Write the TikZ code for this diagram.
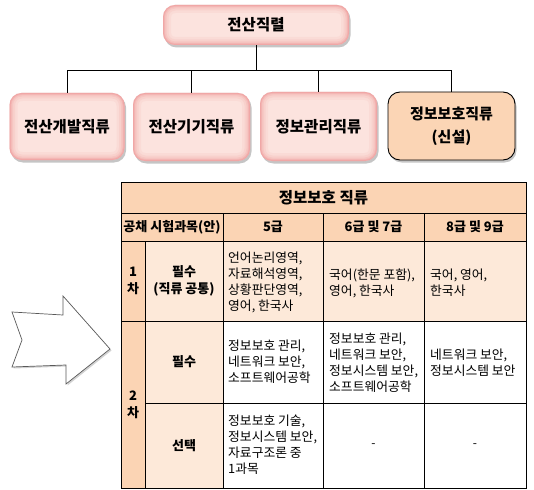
\documentclass[tikz,border=0pt]{standalone}
\usepackage{fontspec}
\setmainfont{Noto Sans CJK KR}
\usetikzlibrary{shadows}
\definecolor{peach}{HTML}{FBD4B4}
\definecolor{lpeach}{HTML}{FDE9D9}
\definecolor{pinkfill}{HTML}{FCE3DE}
\definecolor{pinkedge}{HTML}{EE9696}
\definecolor{newbox}{HTML}{FBD5B5}
\begin{document}
\begin{tikzpicture}[x=1pt,y=-1pt,
  boxshadow/.style={drop shadow={opacity=0.45,shadow xshift=1.5pt,shadow yshift=-2.5pt}},
  pinkbox/.style={rounded corners=12pt, fill=pinkfill, align=center, inner sep=0pt,
    font=\fontsize{15.5}{22}\selectfont\bfseries, boxshadow,
    path picture={\foreach \w/\o in {16/0.10,11/0.14,7/0.2,4/0.3,2/0.45}{\draw[pinkedge,opacity=\o,line width=\w pt,rounded corners=12pt] (path picture bounding box.south west) rectangle (path picture bounding box.north east);}}},
  newstyle/.style={rounded corners=12pt, fill=newbox, draw=black, line width=0.9pt, align=center, inner sep=0pt,
    font=\fontsize{15}{23}\selectfont\bfseries, boxshadow},
  conn/.style={draw=black, line width=0.9pt},
  grid/.style={draw=black, line width=0.9pt},
  cell/.style={font=\fontsize{12.8}{16}\selectfont, align=left, anchor=west, inner sep=0pt},
  hcell/.style={font=\fontsize{13}{17}\selectfont\bfseries, align=center, inner sep=0pt},
  arrowshape/.style={fill=white, draw=gray!70!black, line width=0.7pt, drop shadow={opacity=0.35,shadow xshift=1.5pt,shadow yshift=-1.5pt}}
]
\useasboundingbox[fill=white] (0,0) rectangle (534,489);

% org chart
\node[pinkbox, minimum width=186pt, minimum height=40pt] (top) at (256,25) {전산직렬};
\node[pinkbox, minimum width=115pt, minimum height=67pt] (b1) at (67,126.5) {전산개발직류};
\node[pinkbox, minimum width=117pt, minimum height=68pt] (b2) at (191.5,127) {전산기기직류};
\node[pinkbox, minimum width=117pt, minimum height=69pt] (b3) at (318.5,126.5) {정보관리직류};
\node[newstyle, minimum width=127pt, minimum height=68pt] (b4) at (451.5,126) {정보보호직류\\(신설)};
\coordinate (bus) at (256,70);
\draw[conn] (top.south) -- (bus);
\draw[conn] (b1.north) |- (bus);
\draw[conn] (b2.north) |- (bus);
\draw[conn] (b3.north) |- (bus);
\draw[conn] (b4.north) |- (bus);

% arrow
\draw[arrowshape] (12,312) -- (63,315) -- (63,296) -- (110,349) -- (66,384) -- (66,365) -- (12,367) -- (22,340) -- cycle;

% table fills
\fill[peach] (121,182) rectangle (526,241);
\fill[peach] (121,241) rectangle (145,488);
\fill[lpeach] (145,241) rectangle (223,488);
\fill[lpeach] (223,241) rectangle (526,321);
% table lines
\draw[grid] (121,182) rectangle (526,488);
\draw[grid] (121,213) -- (526,213);
\draw[grid] (121,241) -- (526,241);
\draw[grid] (121,321) -- (526,321);
\draw[grid] (145,403) -- (526,403);
\draw[grid] (145,241) -- (145,488);
\draw[grid] (223,213) -- (223,488);
\draw[grid] (323,213) -- (323,488);
\draw[grid] (424,213) -- (424,488);

% table text
\node[font=\fontsize{15.5}{18}\selectfont\bfseries, inner sep=0pt] (title) at (323.5,197.5) {정보보호 직류};
\node[hcell] (h1) at (172,227) {공채 시험과목(안)};
\node[hcell] (h2) at (273,227) {5급};
\node[hcell] (h3) at (373.5,227) {6급 및 7급};
\node[hcell] (h4) at (475,227) {8급 및 9급};

\node[hcell] (r1a) at (133,281) {1\\차};
\node[hcell] (r1b) at (184,281) {필수\\(직류 공통)};
\node[cell] (r1c) at (228,282) {언어논리영역,\\자료해석영역,\\상황판단영역,\\영어, 한국사};
\node[cell] (r1d) at (329,283) {국어(한문 포함),\\영어, 한국사};
\node[cell] (r1e) at (430,283) {국어, 영어,\\한국사};

\node[hcell] (r2a) at (133,405) {2\\차};
\node[hcell] (r2b) at (184,362) {필수};
\node[cell] (r2c) at (228,362) {정보보호 관리,\\네트워크 보안,\\소프트웨어공학};
\node[cell] (r2d) at (329,363) {정보보호 관리,\\네트워크 보안,\\정보시스템 보안,\\소프트웨어공학};
\node[cell] (r2e) at (430,363) {네트워크 보안,\\정보시스템 보안};

\node[hcell] (r3b) at (184,446) {선택};
\node[cell] (r3c) at (228,445) {정보보호 기술,\\정보시스템 보안,\\자료구조론 중\\1과목};
\node[hcell, font=\fontsize{12}{16}\selectfont] (r3d) at (373.5,446) {-};
\node[hcell, font=\fontsize{12}{16}\selectfont] (r3e) at (475,446) {-};
\end{tikzpicture}
\end{document}
